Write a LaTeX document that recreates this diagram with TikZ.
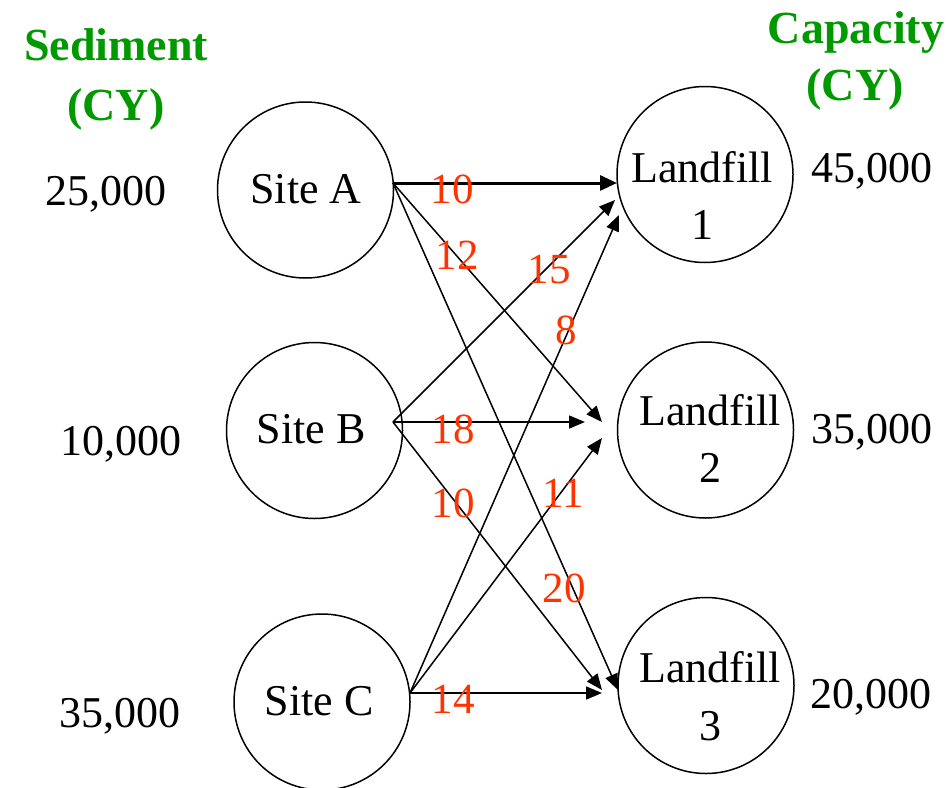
\documentclass[tikz,border=0pt]{standalone}
\usepackage{fontspec}
\setmainfont{Liberation Serif}
\usetikzlibrary{arrows.meta}
\definecolor{hdgreen}{RGB}{0,153,0}
\definecolor{costred}{RGB}{255,51,0}
\begin{document}
\begin{tikzpicture}[x=1pt,y=-1pt,
  site/.style={circle,draw,line width=1.5pt,minimum size=176pt,inner sep=0pt},
  txt/.style={anchor=base,inner sep=0pt,font=\fontsize{44}{44}\selectfont},
  hdr/.style={anchor=base,inner sep=0pt,text=hdgreen,font=\fontsize{46}{46}\selectfont\bfseries},
  cost/.style={anchor=base,inner sep=0pt,text=costred,font=\fontsize{43}{43}\selectfont},
  flow/.style={line width=1.5pt,-{Triangle[length=16pt,width=13pt]}},
  bigflow/.style={line width=3pt,-{Triangle[length=17pt,width=15pt]}},
  ]
\useasboundingbox (0,0) rectangle (949,787);
% circles
\node[site] (A) at (305.5,190) {};
\node[site] (B) at (314.5,430.5) {};
\node[site] (C) at (322,702) {};
\node[site] (L1) at (705,174.5) {};
\node[site] (L2) at (705.5,430) {};
\node[site] (L3) at (706,685.5) {};
% circle texts
\node[txt] (tA) at (306,203) {Site A};
\node[txt] (tB) at (311,443) {Site B};
\node[txt] (tC) at (319,715) {Site C};
\node[txt] (tL1a) at (702,182) {Landfill};
\node[txt] (tL1b) at (702,239) {1};
\node[txt] (tL2a) at (710,425) {Landfill};
\node[txt] (tL2b) at (710,482) {2};
\node[txt] (tL3a) at (710,682) {Landfill};
\node[txt] (tL3b) at (710,740) {3};
% headers
\node[hdr] (h1) at (116,60) {Sediment};
\node[hdr] (h2) at (116,120) {(CY)};
\node[hdr] (h3) at (856,43) {Capacity};
\node[hdr] (h4) at (855,100) {(CY)};
% amounts
\node[txt] (sA) at (106,205) {25,000};
\node[txt] (sB) at (121,455) {10,000};
\node[txt] (sC) at (120,727) {35,000};
\node[txt] (c1) at (872,182) {45,000};
\node[txt] (c2) at (872,443) {35,000};
\node[txt] (c3) at (871,708) {20,000};
% connector ends
\coordinate (oA) at (393,183);
\coordinate (oB) at (393,422);
\coordinate (oC) at (410,693);
\coordinate (eA1) at (617,183);
\coordinate (eA2) at (602,422);
\coordinate (eA3) at (618,690);
\coordinate (eB1) at (615,200);
\coordinate (eB2) at (585,422);
\coordinate (eB3) at (602,690);
\coordinate (eC1) at (619,215);
\coordinate (eC2) at (602,438);
\coordinate (eC3) at (602,693);
% flows
\draw[bigflow] (oA) -- (eA1);
\draw[flow] (oA) -- (eA2);
\draw[flow] (oA) -- (eA3);
\draw[flow] (oB) -- (eB1);
\draw[flow] (oB) -- (eB2);
\draw[flow] (oB) -- (eB3);
\draw[flow] (oC) -- (eC1);
\draw[flow] (oC) -- (eC2);
\draw[flow] (oC) -- (eC3);
% costs
\node[cost] (k1) at (452,203) {10};
\node[cost] (k2) at (457,269) {12};
\node[cost] (k3) at (549,283) {15};
\node[cost] (k4) at (566,344) {8};
\node[cost] (k5) at (453,443) {18};
\node[cost] (k6) at (453,517) {10};
\node[cost] (k7) at (563,507) {11};
\node[cost] (k8) at (564,602) {20};
\node[cost] (k9) at (453,713) {14};
\end{tikzpicture}
\end{document}
